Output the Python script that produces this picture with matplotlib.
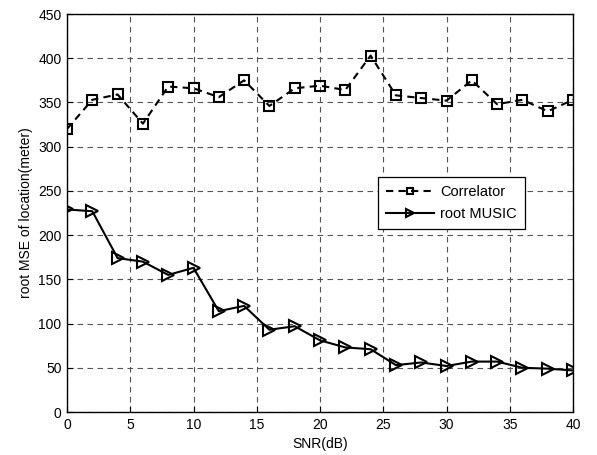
import matplotlib
matplotlib.use("Agg")
import matplotlib.pyplot as plt

snr = [0, 2, 4, 6, 8, 10, 12, 14, 16, 18, 20, 22, 24, 26, 28, 30, 32, 34, 36, 38, 40]
correlator = [320, 353, 359, 326, 368, 366, 356, 375, 346, 366, 369, 364, 403, 358, 355, 352, 375, 348, 353, 340, 353]
root_music = [229, 227, 174, 170, 155, 163, 114, 120, 93, 97, 81, 73, 71, 53, 56, 52, 57, 57, 50, 49, 47]

xticks = [0, 5, 10, 15, 20, 25, 30, 35, 40]
yticks = [0, 50, 100, 150, 200, 250, 300, 350, 400, 450]

plt.rcParams['font.family'] = ['Liberation Sans', 'DejaVu Sans']

fig = plt.figure(figsize=(5.97, 4.55), dpi=100)
ax = fig.add_axes([67/597, 1-412/455, (573-67)/597, (412-14)/455])

ax.plot(snr, correlator, linestyle='--', color='black', linewidth=1.5, marker='s',
        markersize=6.5, markerfacecolor='none', markeredgecolor='black', markeredgewidth=1.5,
        dashes=(3.5, 2.5), label='Correlator')
ax.plot(snr, root_music, linestyle='-', color='black', linewidth=1.5, marker='>',
        markersize=8, markerfacecolor='none', markeredgecolor='black', markeredgewidth=1.5,
        label='root MUSIC')

ax.set_xlim(0, 40)
ax.set_ylim(0, 450)
ax.set_xticks(xticks)
ax.set_yticks(yticks)
ax.tick_params(direction='in', length=4, labelsize=10, width=0.8, pad=4)
ax.grid(True, color='#555555', linestyle=(0, (5, 4)), linewidth=0.8)
for s in ax.spines.values():
    s.set_linewidth(1.0)
ax.set_xlabel('SNR(dB)', fontsize=10, labelpad=4)
ax.set_ylabel('root MSE of location(meter)', fontsize=10, labelpad=4)

leg = ax.legend(loc='upper left', bbox_to_anchor=((378-67)/506, (412-177)/398),
                fontsize=10.5, fancybox=False, framealpha=1, edgecolor='black',
                handlelength=3.3, borderpad=0.55, labelspacing=0.55, handletextpad=0.4,
                markerscale=0.7, borderaxespad=0)
leg.get_frame().set_linewidth(0.9)

fig.savefig('out.png', dpi=100)
